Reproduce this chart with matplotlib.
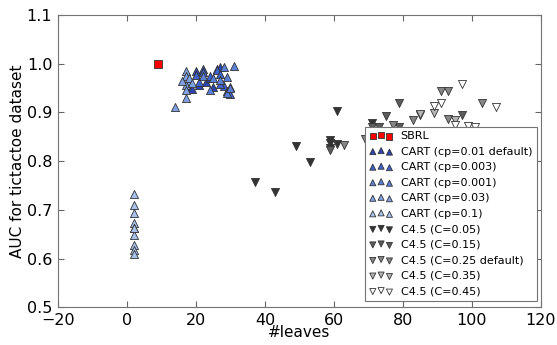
import matplotlib
matplotlib.use("Agg")
import matplotlib.pyplot as plt

# SBRL
sbrl_x = [9]
sbrl_y = [1.0]

# CART runs
cart_001_x = [18, 19, 20, 22, 21, 23, 25, 26, 27, 24]
cart_001_y = [0.950, 0.948, 0.984, 0.989, 0.956, 0.963, 0.951, 0.989, 0.994, 0.970]
cart_0003_x = [20, 22, 24, 26, 27, 28, 29, 30, 21, 27]
cart_0003_y = [0.977, 0.982, 0.975, 0.987, 0.978, 0.955, 0.944, 0.937, 0.963, 0.958]
cart_0001_x = [22, 25, 27, 29, 30, 31, 29, 30, 24, 28]
cart_0001_y = [0.975, 0.970, 0.967, 0.973, 0.953, 0.996, 0.939, 0.950, 0.946, 0.992]
cart_003_x = [17, 17, 18, 17, 16, 17, 18, 14, 17, 19]
cart_003_y = [0.984, 0.975, 0.965, 0.956, 0.965, 0.929, 0.970, 0.910, 0.946, 0.960]
cart_01_x = [2, 2, 2, 2, 2, 2, 2, 2, 2, 2]
cart_01_y = [0.733, 0.710, 0.694, 0.673, 0.662, 0.649, 0.628, 0.617, 0.610, 0.662]

# C4.5 runs
c45_005_x = [37, 43, 49, 53, 59, 59, 59, 61, 61, 71]
c45_005_y = [0.758, 0.736, 0.831, 0.799, 0.844, 0.837, 0.827, 0.902, 0.835, 0.878]
c45_015_x = [59, 71, 73, 75, 79, 97, 79]
c45_015_y = [0.823, 0.870, 0.870, 0.893, 0.919, 0.895, 0.870]
c45_025_x = [63, 69, 77, 83, 91, 93, 103, 93]
c45_025_y = [0.833, 0.845, 0.874, 0.885, 0.943, 0.943, 0.920, 0.886]
c45_035_x = [85, 85, 89, 95]
c45_035_y = [0.895, 0.896, 0.898, 0.885]
c45_045_x = [89, 91, 97, 99, 101, 107, 95]
c45_045_y = [0.913, 0.919, 0.958, 0.872, 0.870, 0.911, 0.874]

series = [
    (sbrl_x, sbrl_y, "SBRL", "s", "#ff0000"),
    (cart_001_x, cart_001_y, "CART (cp=0.01 default)", "^", "#2c44b0"),
    (cart_0003_x, cart_0003_y, "CART (cp=0.003)", "^", "#3f62cc"),
    (cart_0001_x, cart_0001_y, "CART (cp=0.001)", "^", "#5a80d8"),
    (cart_003_x, cart_003_y, "CART (cp=0.03)", "^", "#80a2e4"),
    (cart_01_x, cart_01_y, "CART (cp=0.1)", "^", "#a8c2ee"),
    (c45_005_x, c45_005_y, "C4.5 (C=0.05)", "v", "#333333"),
    (c45_015_x, c45_015_y, "C4.5 (C=0.15)", "v", "#5c5c5c"),
    (c45_025_x, c45_025_y, "C4.5 (C=0.25 default)", "v", "#868686"),
    (c45_035_x, c45_035_y, "C4.5 (C=0.35)", "v", "#b5b5b5"),
    (c45_045_x, c45_045_y, "C4.5 (C=0.45)", "v", "#ffffff"),
]

plt.rcParams["xtick.direction"] = "in"
plt.rcParams["ytick.direction"] = "in"
plt.rcParams["xtick.top"] = True
plt.rcParams["ytick.right"] = True

fig = plt.figure(figsize=(5.57, 3.45), dpi=100)
ax = fig.add_axes([0.104, 0.109, 0.867, 0.848])

for x, y, label, marker, color in series:
    ax.scatter(x, y, s=34, marker=marker, c=color, edgecolors="0.2",
               linewidths=0.6, label=label, zorder=3)

ax.set_xlim(-20, 120)
ax.set_ylim(0.5, 1.1)
ax.set_xticks(range(-20, 121, 20))
ax.set_yticks([0.5, 0.6, 0.7, 0.8, 0.9, 1.0, 1.1])
ax.set_xlabel("#leaves", fontsize=11, labelpad=-2)
ax.set_ylabel("AUC for tictactoe dataset", fontsize=11, labelpad=1)
ax.tick_params(labelsize=11.5, length=4, width=0.8, color="0.4", pad=4)
for sp in ax.spines.values():
    sp.set_color("0.45")

leg = ax.legend(loc="lower right", bbox_to_anchor=(0.991, 0.022),
                borderaxespad=0, scatterpoints=3, fontsize=8,
                fancybox=False, framealpha=1, labelspacing=0.5,
                handletextpad=0.7, handlelength=2.1, borderpad=0.4,
                markerscale=0.75)
leg.get_frame().set_edgecolor("0.45")
leg.get_frame().set_linewidth(0.8)

fig.savefig("out.png", dpi=100)
